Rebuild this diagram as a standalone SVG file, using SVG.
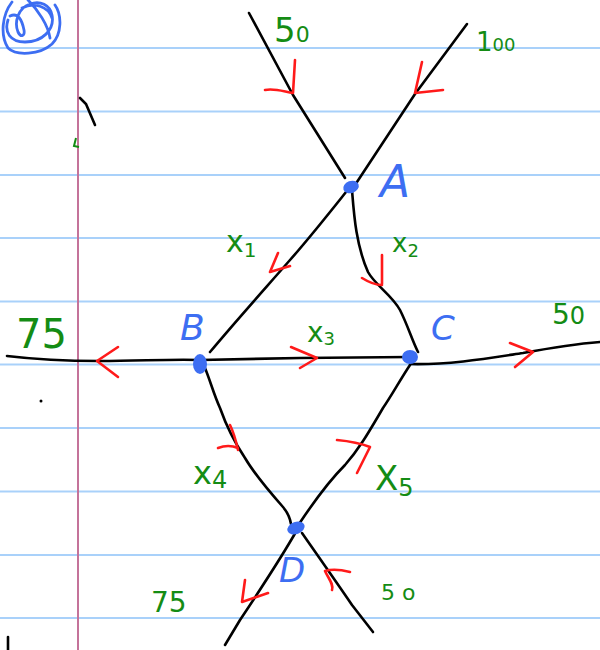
<svg xmlns="http://www.w3.org/2000/svg" width="600" height="650" viewBox="0 0 600 650">
<style>
.rule{stroke:#a9d1fa;stroke-width:2;fill:none}
.margin{stroke:#c4739a;stroke-width:2;fill:none}
.edge{stroke:#000;stroke-width:2.6;fill:none;stroke-linecap:round;stroke-linejoin:round}
.arr{stroke:#ff1a1a;stroke-width:2.6;fill:none;stroke-linecap:round;stroke-linejoin:round}
.dot{fill:#3d6ef2}
.nlabel{fill:#3d6ef2;font-family:"DejaVu Sans",sans-serif;font-style:italic}
.flab{fill:#148c14;font-family:"DejaVu Sans",sans-serif}
.ink{stroke:#000;stroke-width:2.6;fill:none;stroke-linecap:round}
</style>
<rect width="600" height="650" fill="#fff"/>
<g id="paper">
<path class="rule" d="M0 48H600M0 111.5H600M0 175H600M0 238H600M0 301.5H600M0 364.5H600M0 428H600M0 491.5H600M0 555H600M0 618H600"/>
<path class="margin" d="M78 0V650"/>
<path d="M12 2C2 15 0 35 8 48C16 56 40 55 52 44C62 34 62 15 55 5M8 20C4 32 10 42 25 42C42 42 55 30 52 15C50 5 40 0 30 4C18 8 14 22 18 32C21 38 25 36 24 30C22 20 18 12 10 16M28 0C38 10 48 25 50 38M22 8C34 2 48 6 52 18" stroke="#3d6ef2" stroke-width="2.8" fill="none" stroke-linecap="round"/>
<path class="ink" d="M80 98L86 104L95 125"/>
<path d="M76 138L74 146L79 147" stroke="#148c14" stroke-width="2" fill="none"/>
<circle cx="41" cy="401" r="1.5" fill="#000"/>
<path class="ink" d="M8 637V650"/>
</g>
<g id="connectors">
<path class="edge" d="M249 13L293 95L345 178"/>
<path class="edge" d="M467 24L415 94L355 185"/>
<path class="edge" d="M350 187C330 212 312 235 290 260C262 292 235 322 210 352"/>
<path class="edge" d="M352 190C354 215 356 245 368 272C375 285 392 295 400 310C408 326 412 340 418 352"/>
<path class="edge" d="M7 356C40 360 70 361 100 361C140 361 170 359 200 360L300 358L410 357"/>
<path class="edge" d="M410 364C450 365 490 358 523 353C550 348 575 344 600 342"/>
<path class="edge" d="M410 365C400 380 392 395 383 408C370 430 360 448 345 465C330 480 315 500 299 524"/>
<path class="edge" d="M205 368C210 380 214 395 220 408C226 425 233 440 245 458C255 475 268 490 283 507C288 513 290 518 291 524"/>
<path class="edge" d="M297 530C280 560 260 590 240 620L225 645"/>
<path class="edge" d="M302 533C318 556 335 580 352 605L373 632"/>
<path class="arr" d="M295 60L293 93M265 90C275 88 285 92 293 93"/>
<path class="arr" d="M422 62L415 93L443 90"/>
<path class="arr" d="M278 253L270 272L290 266"/>
<path class="arr" d="M382 255L382 284M362 278C370 283 376 285 382 285"/>
<path class="arr" d="M118 347L97 361L118 377"/>
<path class="arr" d="M291 347L317 358L300 368"/>
<path class="arr" d="M510 343L533 352L515 367"/>
<path class="arr" d="M230 425C234 433 236 441 238 450M218 448C226 445 233 446 238 448"/>
<path class="arr" d="M337 440C348 441 360 443 370 447L357 473"/>
<path class="arr" d="M245 580L242 602L268 593"/>
<path class="arr" d="M350 572C342 570 332 569 325 571C328 578 334 584 332 590"/>
</g>
<g id="A"><ellipse class="dot" cx="351" cy="187" rx="8" ry="6" transform="rotate(-20 351 187)"/><text class="nlabel" x="380" y="197" font-size="44">A</text></g>
<g id="B"><ellipse class="dot" cx="200" cy="364" rx="7" ry="10"/><text class="nlabel" x="180" y="340" font-size="36">B</text></g>
<g id="C"><ellipse class="dot" cx="410" cy="357" rx="8" ry="7"/><text class="nlabel" x="431" y="340" font-size="34">C</text></g>
<g id="D"><ellipse class="dot" cx="296" cy="528" rx="9" ry="6" transform="rotate(-20 296 528)"/><text class="nlabel" x="279" y="582" font-size="34">D</text></g>
<g id="labels">
<text class="flab" x="274" y="42" font-size="34">5<tspan font-size="22">0</tspan></text>
<text class="flab" x="476" y="51" font-size="26">1<tspan font-size="18">00</tspan></text>
<text class="flab" x="226" y="252" font-size="30">x<tspan font-size="20" dy="5">1</tspan></text>
<text class="flab" x="392" y="252" font-size="26">x<tspan font-size="18" dy="5">2</tspan></text>
<text class="flab" x="307" y="342" font-size="28">x<tspan font-size="18" dy="3">3</tspan></text>
<text class="flab" x="16" y="348" font-size="40">75</text>
<text class="flab" x="552" y="324" font-size="28">5<tspan font-size="24">0</tspan></text>
<text class="flab" x="193" y="484" font-size="32">x<tspan font-size="24" dy="4">4</tspan></text>
<text class="flab" x="375" y="490" font-size="34">X<tspan font-size="24" dy="6">5</tspan></text>
<text class="flab" x="151" y="612" font-size="28">75</text>
<text class="flab" x="381" y="600" font-size="22">5 o</text>
</g>
</svg>
